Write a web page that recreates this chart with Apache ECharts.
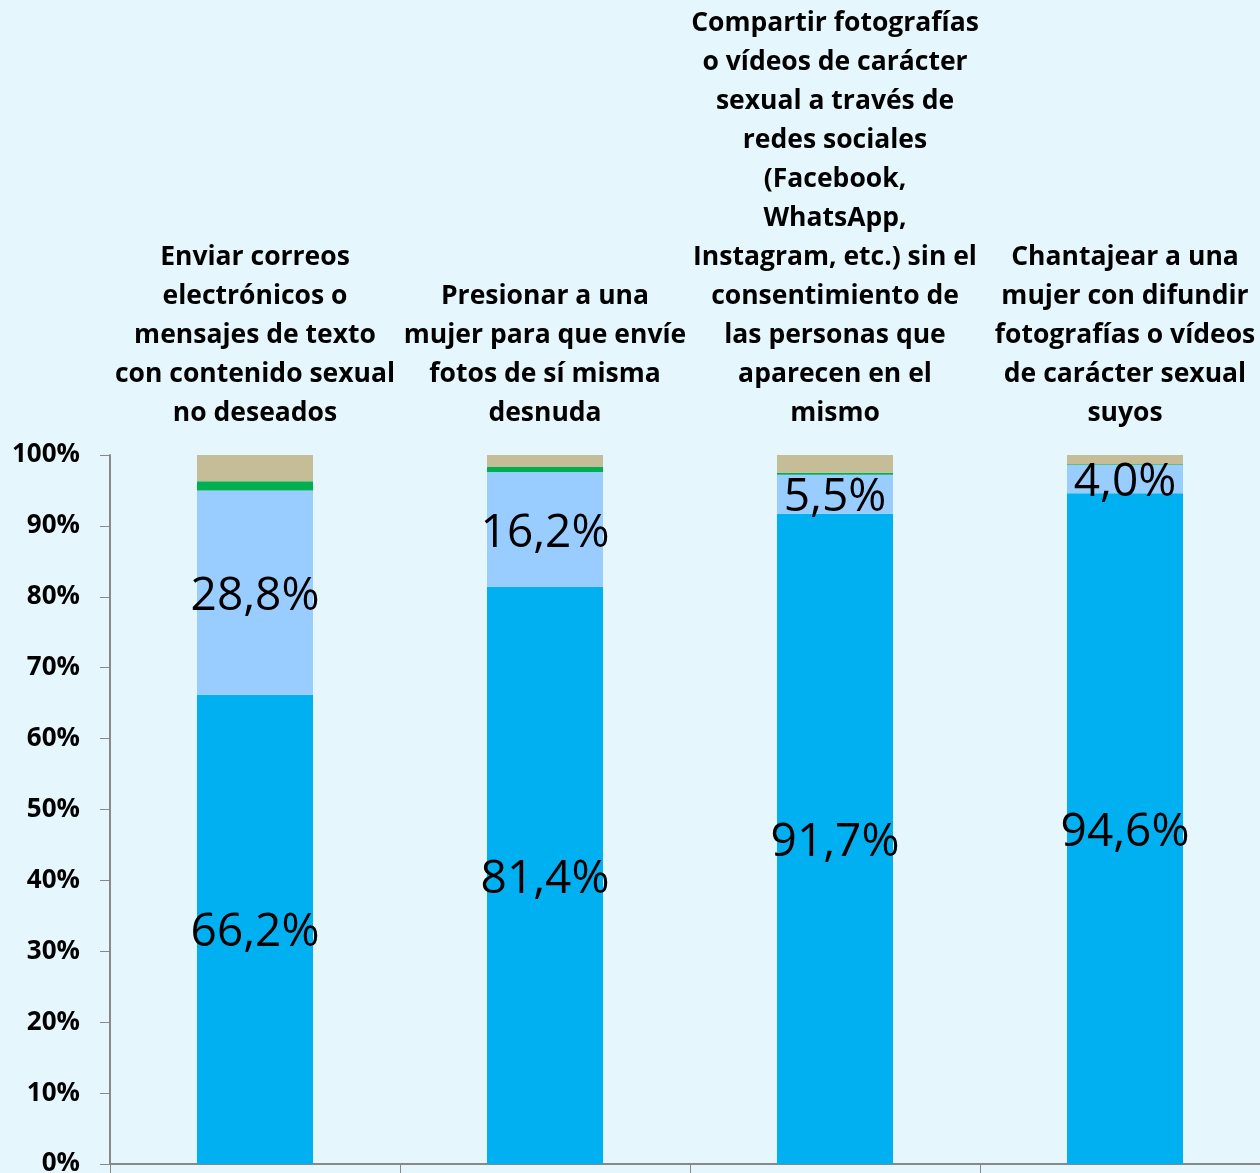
<!DOCTYPE html>
<html>
<head>
<meta charset="utf-8">
<script src="https://cdn.jsdelivr.net/npm/echarts@6/dist/echarts.min.js"></script>
<style>
  html, body { margin: 0; padding: 0; background: #E6F6FD; }
  #chart { width: 1260px; height: 1173px; }
</style>
</head>
<body>
<div id="chart"></div>
<script>
var categories = [
    'Enviar correos\nelectrónicos o\nmensajes de texto\ncon contenido sexual\nno deseados',
    'Presionar a una\nmujer para que envíe\nfotos de sí misma\ndesnuda',
    'Compartir fotografías\no vídeos de carácter\nsexual a través de\nredes sociales\n(Facebook,\nWhatsApp,\nInstagram, etc.) sin el\nconsentimiento de\nlas personas que\naparecen en el\nmismo',
    'Chantajear a una\nmujer con difundir\nfotografías o vídeos\nde carácter sexual\nsuyos'
];
var serieA = [66.2, 81.4, 91.7, 94.6];
var serieB = [28.8, 16.2, 5.5, 4.0];
var serieC = [1.3, 0.7, 0.3, 0.1];
var serieD = [3.7, 1.7, 2.5, 1.3];

var myChart = echarts.init(document.getElementById('chart'));

function pct(p) {
    return p.value.toFixed(1).replace('.', ',') + '%';
}
var etiqueta = {
    show: true,
    position: 'inside',
    offset: [0, 4],
    formatter: pct,
    color: '#000',
    fontSize: 46,
    fontFamily: 'Open Sans'
};

var option = {
    backgroundColor: '#E6F6FD',
    grid: { left: 110, width: 1160, top: 455, height: 709, outerBoundsMode: 'none', containLabel: false },
    xAxis: [{
        type: 'category',
        data: categories,
        position: 'bottom',
        axisLine: { lineStyle: { color: '#888', width: 2 } },
        axisTick: { show: true, length: 9, lineStyle: { color: '#888' } },
        axisLabel: { show: false }
    }, {
        type: 'category',
        data: categories,
        position: 'top',
        axisLine: { show: false },
        axisTick: { show: false },
        axisLabel: {
            margin: 22,
            color: '#000',
            fontWeight: 'bold',
            fontSize: 26.5,
            lineHeight: 39,
            fontFamily: 'Open Sans',
            interval: 0
        }
    }],
    yAxis: {
        type: 'value',
        min: 0,
        max: 100,
        interval: 10,
        splitLine: { show: false },
        axisLine: { show: true, lineStyle: { color: '#888', width: 2 } },
        axisTick: { show: true, length: 10, lineStyle: { color: '#888' } },
        axisLabel: {
            formatter: '{value}%',
            margin: 30,
            color: '#000',
            fontWeight: 'bold',
            fontSize: 26,
            fontFamily: 'Open Sans'
        }
    },
    series: [
        { type: 'bar', stack: 't', barWidth: 116, data: serieA, itemStyle: { color: '#00B0F0' }, label: etiqueta },
        { type: 'bar', stack: 't', data: serieB, itemStyle: { color: '#99CCFF' }, label: etiqueta },
        { type: 'bar', stack: 't', data: serieC, itemStyle: { color: '#00B050' } },
        { type: 'bar', stack: 't', data: serieD, itemStyle: { color: '#C4BD97' } }
    ]
};

myChart.setOption(option);
</script>
</body>
</html>
